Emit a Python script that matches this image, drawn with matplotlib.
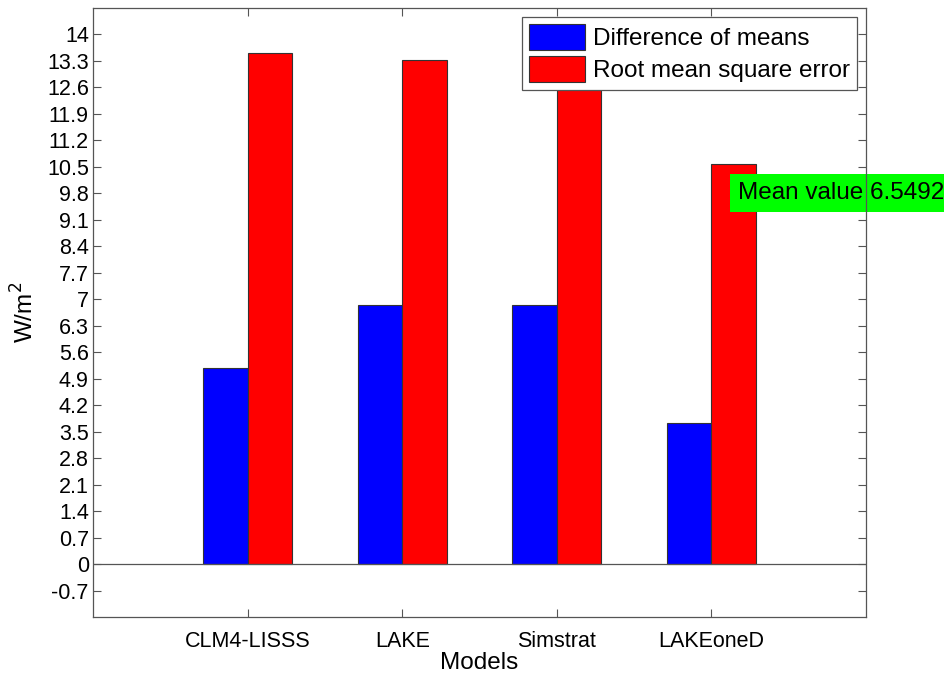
import numpy as np
import matplotlib
matplotlib.use("Agg")
import matplotlib.pyplot as plt

plt.rcParams['font.family'] = ['Liberation Sans', 'DejaVu Sans']

# model comparison values (W/m^2)
models = ['CLM4-LISSS', 'LAKE', 'Simstrat', 'LAKEoneD']
diff_means = [5.18, 6.86, 6.85, 3.72]
rmse = [13.51, 13.33, 13.45, 10.58]
mean_label = 'Mean value 6.5492'
yticks = np.round(np.arange(-0.7, 14.01, 0.7), 1)

fig = plt.figure(figsize=(9.45, 6.76), dpi=100)
ax = fig.add_axes([93 / 945, 1 - 617 / 676, (866 - 93) / 945, (617 - 8) / 676])

x = np.arange(1, len(models) + 1)
w = 0.288
ax.bar(x - w / 2, diff_means, w, color='#0000ff', edgecolor='#333333',
       linewidth=0.8, label='Difference of means', zorder=2)
ax.bar(x + w / 2, rmse, w, color='#ff0000', edgecolor='#333333',
       linewidth=0.8, label='Root mean square error', zorder=2)
ax.axhline(0, color='#555555', linewidth=0.9, zorder=3)

ax.set_xlim(0, 5)
ax.set_ylim(-1.4, 14.7)
ax.set_xticks(x)
ax.set_xticklabels(models)
ax.set_yticks(yticks)
ax.set_yticklabels(['0' if v == 0 else ('%g' % v) for v in yticks])
ax.tick_params(direction='in', length=6, width=0.8, color='#555555',
               labelsize=15.5, top=True, right=True)
ax.tick_params(axis='x', pad=10)
ax.tick_params(axis='y', pad=3)
for s in ax.spines.values():
    s.set_color('#555555')
    s.set_linewidth(0.9)
    s.set_zorder(5)

ax.set_xlabel('Models', fontsize=17.5, labelpad=0)
ax.set_ylabel('W/m$^2$', fontsize=17.5, labelpad=6)

leg = ax.legend(loc='upper right', bbox_to_anchor=(0.989, 0.9855), fontsize=17.5,
                fancybox=False, framealpha=1, edgecolor='#555555',
                handlelength=2.3, handleheight=1.25, handletextpad=0.33,
                borderpad=0.3, labelspacing=0.25, borderaxespad=0)
leg.get_frame().set_linewidth(0.9)

ax.text(4.17, 9.81, mean_label, fontsize=17.5, va='center', ha='left',
        bbox=dict(facecolor='#00ff00', edgecolor='none', pad=5.5),
        zorder=4, clip_on=False)

fig.savefig('out.png', dpi=100)
